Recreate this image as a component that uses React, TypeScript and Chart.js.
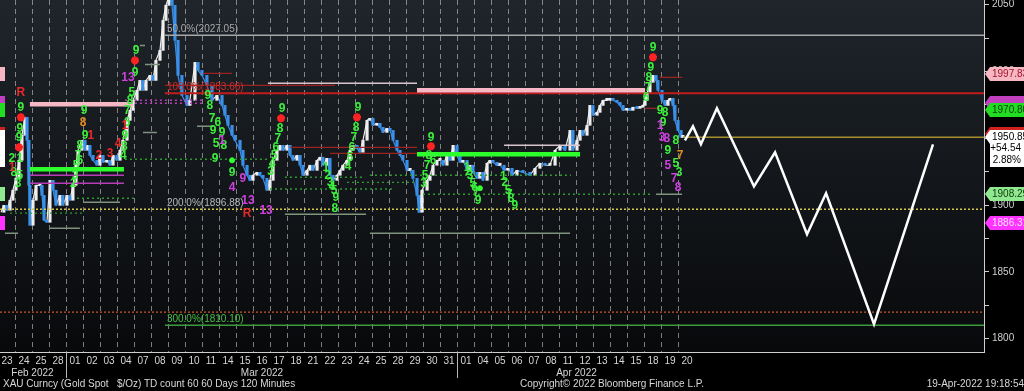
import React, { useEffect, useRef } from "react";
import { Chart, registerables } from "chart.js";

Chart.register(...registerables);

// ---------- DATA ----------
const dayLabels = ["23","24","25","28","01","02","03","04","07","08","09","10","11","14","15","16","17","18","21","22","23","24","25","28","29","30","31","01","04","05","06","07","08","11","12","13","14","15","18","19","20"];
const monthLabels = ["Feb 2022", "Mar 2022", "Apr 2022"];
const monthFirstDay = [0, 4, 27];
const monthLastDay = [3, 26, 40];
const yTicks = [1800, 1825, 1850, 1875, 1900, 1925, 1950, 1975, 2000, 2025, 2050];
const X_MIN = -0.41;
const X_MAX = 57.47;
const Y_MIN = 1790;
const Y_MAX = 2053.5;

// price path [trading-day index, price]
const priceFeb = [[-0.35,1894.6],[-0.18,1899.8],[0.00,1896.1],[0.18,1903.6],[0.35,1911.1],[0.53,1920.0],[0.71,1933.5],[0.88,1952.2],[1.06,1965.7],[1.18,1948.5],[1.29,1914.8],[1.35,1884.9],[1.53,1903.6],[1.71,1914.8],[1.94,1914.8],[2.06,1907.3],[2.18,1888.6],[2.35,1887.1],[2.53,1918.5],[2.71,1911.1],[2.88,1899.8],[3.12,1907.3],[3.29,1899.8],[3.53,1907.3],[3.71,1903.6],[3.88,1914.8]];
const priceMar = [[4.06,1929.8],[4.18,1941.0],[4.41,1948.5],[4.59,1941.0],[4.76,1944.7],[4.88,1937.2],[5.06,1933.5],[5.29,1929.8],[5.47,1937.2],[5.65,1932.0],[5.88,1933.5],[6.06,1929.8],[6.24,1937.2],[6.47,1933.5],[6.65,1941.0],[6.82,1948.5],[7.06,1963.4],[7.24,1970.9],[7.41,1978.4],[7.65,1985.9],[7.82,1993.3],[8.00,1985.9],[8.18,1993.3],[8.41,1997.1],[8.59,1993.3],[8.76,2008.3],[9.00,2015.8],[9.18,2038.2],[9.35,2049.5],[9.53,2056.0],[9.71,2049.5],[9.88,2023.3],[10.06,1997.1],[10.29,1982.1],[10.59,1974.6],[10.76,1978.4],[11.06,2006.8],[11.24,2000.8],[11.47,1997.1],[11.76,1989.6],[12.06,1978.4],[12.35,1982.1],[12.65,1974.6],[12.82,1967.2],[13.00,1959.7],[13.24,1952.2],[13.41,1948.5],[13.71,1941.0],[13.88,1929.8],[14.12,1922.3],[14.29,1918.5],[14.47,1922.3],[14.71,1924.5],[14.88,1922.3],[15.06,1920.0],[15.29,1911.1],[15.47,1918.5],[15.65,1933.5],[15.88,1941.0],[16.06,1944.7],[16.24,1941.0],[16.47,1944.7],[16.65,1937.2],[16.82,1933.5],[17.06,1937.2],[17.24,1929.8],[17.41,1922.3],[17.65,1926.0],[17.82,1929.8],[18.00,1926.0],[18.24,1933.5],[18.41,1935.8],[18.59,1929.8],[18.82,1935.0],[19.00,1922.3],[19.18,1918.5],[19.41,1922.3],[19.59,1926.0],[19.76,1929.8],[20.00,1933.5],[20.18,1941.0],[20.35,1944.7],[20.59,1942.5],[20.76,1939.5],[20.94,1948.5],[21.18,1963.4],[21.35,1964.9],[21.53,1959.7],[21.76,1961.2],[21.94,1958.2],[22.12,1954.4],[22.35,1957.4],[22.53,1955.9],[22.71,1948.5],[22.94,1941.0],[23.12,1937.2],[23.29,1933.5],[23.53,1926.0],[23.71,1926.0],[23.88,1920.0],[24.12,1907.3],[24.24,1894.6],[24.41,1911.1],[24.71,1918.5],[24.88,1922.3],[25.06,1929.8],[25.29,1933.5],[25.47,1933.5],[25.65,1929.8],[25.88,1937.2],[26.06,1933.5],[26.24,1944.7],[26.47,1937.2],[26.65,1932.0],[26.82,1933.5]];
const priceApr = [[27.06,1926.0],[27.24,1929.8],[27.41,1924.5],[27.65,1920.0],[27.82,1924.5],[28.00,1918.5],[28.24,1931.3],[28.41,1933.5],[28.59,1932.0],[28.82,1929.8],[29.00,1929.8],[29.24,1926.0],[29.47,1927.5],[29.71,1922.3],[30.00,1926.0],[30.35,1924.5],[30.76,1922.3],[31.06,1927.5],[31.35,1931.3],[31.65,1929.8],[31.94,1929.8],[32.24,1941.0],[32.53,1944.7],[32.82,1941.0],[33.12,1955.9],[33.29,1941.0],[33.53,1948.5],[33.71,1955.9],[33.88,1952.2],[34.12,1959.7],[34.29,1974.6],[34.47,1967.2],[34.71,1969.4],[34.88,1974.6],[35.06,1978.4],[35.29,1978.4],[35.47,1979.9],[35.65,1978.4],[35.88,1976.9],[36.06,1974.6],[36.24,1970.9],[36.47,1972.4],[36.65,1970.9],[36.82,1973.2],[37.06,1972.4],[37.24,1973.2],[37.41,1974.6],[37.53,1978.4],[37.65,1983.6],[37.82,1991.9],[38.00,1997.1],[38.18,1993.3],[38.29,1985.9],[38.53,1978.4],[38.71,1974.6],[38.88,1978.4],[39.00,1979.9],[39.18,1974.6],[39.29,1963.4],[39.47,1955.9],[39.65,1950.7],[39.76,1950.85]];

// projected path
const projection = [[39.88,1948.5],[40.35,1958.9],[40.82,1945.5],[41.76,1972.4],[43.94,1914.0],[45.18,1939.5],[47.06,1878.1],[48.18,1908.8],[51.00,1810.8],[54.47,1945.5]];

// fibonacci levels
const fibLevels = [2027.05, 1983.66, 1896.88, 1810.10];
const fibNames = ["50.0%", "100.0%", "200.0%", "300.0%"];
const fibStartDay = 9.29;
const lastPrice = 1950.85;
const lastPriceStart = 39.76;
const orangeLevel = 1819.8;

// horizontal segments [fromDay, toDay, price]
const pinkBars = [[1.35,7.41,1975.4],[24.12,37.53,1985.9]];
const greenBars = [[1.35,6.88,1926.8],[24.12,33.71,1938.0]];
const magentaLines = [[1.35,6.88,1922.3],[1.35,6.88,1916.3]];
const magentaDots = [[6.94,11.53,1978.4],[6.94,11.53,1976.2]];
const lightLines = [[15.35,24.12,1991.1],[29.24,33.71,1944.7]];
const grayLines = [[-0.12,0.65,1878.9],[2.53,4.29,1882.6],[4.47,6.65,1902.1],[8.0,8.82,1954.4],[8.12,9.0,2005.3],[7.82,8.12,2019.5],[11.18,12.12,1958.9],[16.35,21.12,1893.1],[21.35,33.12,1878.9],[38.18,39.71,1908.1]];
const greenDotLines = [[6.94,15.47,1934.3],[4.12,7.53,1905.1],[0.18,4.41,1893.9],[16.35,21.06,1920.8],[21.35,33.18,1922.3],[20.0,24.12,1917.0],[15.47,22.82,1912.0],[24.47,37.94,1908.1]];
const darkRedLines = [[16.65,24.12,1943.2],[19.0,24.12,1938.7],[11.53,13.24,1998.6],[38.41,39.71,1995.6],[37.53,38.41,1972.4],[9.29,19.29,1989.6]];

// TD count labels [day, price, text]
const tdGreen = [[0.82,1973.2,"9"],[0.76,1957.4,"9"],[0.71,1950.7,"9"],[0.29,1935.0,"2"],[0.76,1935.0,"1"],[0.41,1924.5,"8"],[0.76,1922.3,"5"],[0.65,1916.3,"3"],
  [4.53,1970.9,"9"],[4.59,1952.2,"9"],[4.29,1944.7,"8"],[4.18,1937.2,"7"],[4.29,1933.5,"6"],[4.06,1929.8,"5"],[4.0,1922.3,"3"],[3.9,1916.0,"2"],
  [7.59,2015.8,"9"],[7.53,1999.3,"9"],[7.35,1984.4,"5"],[7.24,1978.4,"8"],[7.06,1970.9,"7"],[7.06,1961.9,"6"],[6.94,1952.2,"9"],[6.9,1944.0,"8"],[6.85,1937.0,"4"],
  [11.82,1982.1,"9"],[11.94,1974.6,"8"],[12.06,1964.9,"7"],[12.12,1955.9,"9"],[12.24,1935.0,"9"],[12.41,1961.9,"6"],[12.65,1954.4,"9"],[12.76,1944.7,"8"],[13.24,1924.5,"9"],[12.3,1946.0,"5"],
  [16.18,1972.4,"9"],[16.06,1957.4,"8"],[15.94,1949.9,"7"],[15.82,1943.2,"6"],[15.71,1937.2,"5"],[15.6,1931.0,"4"],[15.5,1925.0,"3"],
  [18.76,1928.3,"1"],[18.88,1922.3,"2"],[19.0,1917.0,"3"],[19.12,1914.0,"4"],[19.24,1911.1,"5"],[19.35,1905.8,"9"],[19.29,1897.6,"8"],
  [20.65,1973.2,"9"],[20.53,1958.2,"8"],[20.41,1950.7,"7"],[20.29,1943.2,"6"],[20.18,1935.8,"5"],[20.06,1929.0,"4"],
  [24.94,1950.7,"9"],[24.82,1937.2,"8"],[24.71,1929.8,"7"],[24.59,1922.3,"5"],[25.06,1933.0,"6"],[24.5,1916.0,"3"],
  [27.06,1928.3,"1"],[27.24,1922.3,"3"],[27.41,1916.3,"5"],[27.59,1909.6,"7"],[27.71,1903.6,"9"],[27.15,1925.0,"2"],[27.5,1913.0,"6"],
  [29.29,1917.0,"2"],[29.47,1911.1,"5"],[29.65,1905.1,"8"],[29.88,1899.8,"9"],[29.2,1921.0,"1"],[29.55,1908.0,"7"],
  [38.0,2018.0,"9"],[37.88,2003.1,"9"],[37.76,1995.6,"8"],[37.71,1988.1,"7"],[37.59,1980.6,"6"],
  [38.41,1970.9,"9"],[38.71,1969.4,"8"],[38.59,1961.9,"9"],[38.88,1941.0,"9"],[39.35,1948.5,"8"],[39.35,1931.3,"5"],[39.53,1924.5,"3"]];
const tdMagenta = [[7.12,1995.6,"13"],[12.65,1948.5,"1"],[13.88,1920.0,"9"],[13.24,1913.3,"4"],[14.18,1903.6,"13"],[15.24,1896.1,"13"],[38.41,1959.7,"1"],[38.53,1950.7,"3"],[38.82,1949.9,"8"],[38.88,1929.8,"5"],[39.24,1920.0,"7"],[39.47,1913.3,"8"]];
const tdRed = [[0.82,1984.4,"R"],[14.12,1893.9,"R"],[4.94,1952.2,"1"],[5.41,1937.2,"2"],[6.06,1938.7,"3"],[6.53,1946.2,"4"],[6.94,1959.7,"1"],[0.3,1928.0,"1"]];
const tdOrange = [[4.47,1961.9,"8"],[39.59,1937.2,"7"]];
const redStars = [[0.82,1965.7],[0.71,1943.2],[7.53,2008.3],[16.12,1964.9],[20.59,1965.7],[24.94,1944.0],[38.0,2010.6]];
const greenStars = [[13.24,1933.5],[27.82,1912.6]];

// right-axis value tags
const tagValues = [1976.2, 1997.83, 1970.80, 1953.0, 1950.85, 1908.29, 1886.31];
const tagTexts = [[""], ["1997.83"], ["1970.80"], [""], ["1950.85", "+54.54", "2.88%"], ["1908.29"], ["1886.31"]];
const tagFill = ["#c040c0", "#f6b7c3", "#22dd22", "#d02020", "#ffffff", "#90e890", "#ff33ff"];
const tagInk = ["#ffffff", "#a0142c", "#083c08", "#ffffff", "#000000", "#0b3a0b", "#ffe0ff"];

// ---------- HELPERS ----------
const UP = "#eeeeee";
const DOWN = "#3a8fe8";
const toPts = (arr: number[][]) => arr.map(([x, y]) => ({ x, y }));
const segData = (segs: number[][]) =>
  segs.flatMap(([a, b, p]) => [{ x: a, y: p }, { x: b, y: p }, { x: b, y: null as any }]);

const lineDs = (data: any[], color: string, width: number, dash: number[] = []) => ({
  data, borderColor: color, borderWidth: width, borderDash: dash, pointRadius: 0,
  spanGaps: false, fill: false, tension: 0,
});

const FONT = '"Liberation Sans", Arial, sans-serif';

const bgPlugin = {
  id: "bg",
  beforeDraw(chart: any) {
    const { ctx, chartArea: a, width, height } = chart;
    ctx.save();
    ctx.fillStyle = "#000";
    ctx.fillRect(0, 0, width, height);
    const g = ctx.createLinearGradient(0, a.top, 0, a.bottom);
    g.addColorStop(0, "#1f252b");
    g.addColorStop(1, "#08090b");
    ctx.fillStyle = g;
    ctx.fillRect(a.left, a.top, a.right - a.left, a.bottom - a.top);
    ctx.restore();
  },
};

const labelPlugin = {
  id: "labels",
  afterDatasetsDraw(chart: any) {
    const { ctx } = chart;
    const xs = chart.scales.x, ys = chart.scales.y;
    ctx.save();
    ctx.font = `10px ${FONT}`;
    ctx.textAlign = "left";
    ctx.textBaseline = "bottom";
    const fibColors = ["#a8a8a8", "#d02a2a", "#b8b8b8", "#44c044"];
    fibLevels.forEach((lv, i) => {
      ctx.fillStyle = fibColors[i];
      ctx.fillText(`${fibNames[i]}(${lv.toFixed(2)})`, xs.getPixelForValue(fibStartDay) + 2, ys.getPixelForValue(lv) - 1);
    });
    ctx.font = `bold 12px ${FONT}`;
    ctx.textAlign = "center";
    ctx.textBaseline = "middle";
    const groups: [any[], string][] = [[tdGreen, "#3cf03c"], [tdMagenta, "#d040e0"], [tdRed, "#e82a2a"], [tdOrange, "#e08a20"]];
    for (const [items, color] of groups) {
      ctx.fillStyle = color;
      for (const [d, p, t] of items) ctx.fillText(t, xs.getPixelForValue(d), ys.getPixelForValue(p));
    }
    ctx.restore();
  },
  afterDraw(chart: any) {
    const { ctx, chartArea: a } = chart;
    const xs = chart.scales.x, ys = chart.scales.y;
    ctx.save();
    ctx.strokeStyle = "#b8b8b8";
    ctx.lineWidth = 1;
    [monthLastDay[0] + 0.5, monthLastDay[1] + 0.5].forEach((d) => {
      const px = Math.round(xs.getPixelForValue(d)) + 0.5;
      ctx.beginPath();
      ctx.moveTo(px, a.bottom);
      ctx.lineTo(px, a.bottom + 26);
      ctx.stroke();
    });
    ctx.font = `10px ${FONT}`;
    ctx.textBaseline = "middle";
    tagValues.forEach((v, i) => {
      const y = Math.round(ys.getPixelForValue(v));
      const lines = tagTexts[i];
      const h = 14 + (lines.length - 1) * 11.5;
      const x0 = a.right + 1;
      ctx.fillStyle = tagFill[i];
      ctx.beginPath();
      ctx.moveTo(x0, y);
      ctx.lineTo(x0 + 5, y - 7);
      ctx.lineTo(chart.width, y - 7);
      ctx.lineTo(chart.width, y - 7 + h);
      ctx.lineTo(x0 + 5, y - 7 + h);
      ctx.lineTo(x0 + 5, y + 7);
      ctx.closePath();
      ctx.fill();
      ctx.fillRect(a.left, y - 7, 5, h);
      ctx.fillStyle = tagInk[i];
      lines.forEach((t, k) => {
        if (k === 0) { ctx.textAlign = "left"; ctx.fillText(t, x0 + 7, y); }
        else { ctx.textAlign = "right"; ctx.fillText(t, chart.width - 3, y + k * 11.5); }
      });
    });
    ctx.restore();
  },
};

export default function App() {
  const ref = useRef<HTMLCanvasElement>(null);
  useEffect(() => {
    document.body.style.margin = "0";
    document.body.style.background = "#000";
    Chart.defaults.font.family = FONT;
    Chart.defaults.font.size = 10;
    const fullSpan = (p: number, from = fibStartDay) => segData([[from, X_MAX, p]]);
    const path = [...priceFeb, ...priceMar, ...priceApr];
    const price = toPts(path);
    // candle bodies: each bar opens at the previous close
    const bodies = path.slice(1).map(([x, y], i) => ({ x, y: [path[i][1], y] }));
    const chart = new Chart(ref.current!, {
      type: "line",
      data: {
        datasets: [
          { ...lineDs(toPts(redStars), "#ff2222", 2.5), showLine: false, pointRadius: 4, pointStyle: "star", pointBorderColor: "#ff2222", pointBorderWidth: 2.5 } as any,
          { ...lineDs(toPts(greenStars), "#33ff33", 1), showLine: false, pointRadius: 2.5, pointStyle: "circle", pointBackgroundColor: "#33ff33", pointBorderColor: "#33ff33" } as any,
          lineDs(toPts(projection), "#ffffff", 2.5),
          lineDs(segData(pinkBars), "#f5b8c4", 4.5),
          lineDs(segData(greenBars), "#2cff2c", 4.5),
          lineDs(segData(magentaLines), "#b83cb8", 1.5),
          lineDs(segData(magentaDots), "#b83cb8", 1.5, [2, 3]),
          lineDs(segData(lightLines), "#d9c6cc", 1.5),
          lineDs(segData(grayLines), "#7f937f", 1.5),
          lineDs(segData(greenDotLines), "#2f9a2f", 1.3, [2, 3]),
          lineDs(segData(darkRedLines), "#9a2222", 1.3),
          lineDs(fullSpan(fibLevels[0]), "#a8a8a8", 1.5),
          lineDs(fullSpan(fibLevels[1]), "#c01c1c", 2),
          lineDs(fullSpan(fibLevels[2], X_MIN), "#d8c848", 1.5, [2, 2]),
          lineDs(fullSpan(fibLevels[3]), "#3c9c3c", 1.5),
          lineDs(fullSpan(orangeLevel, X_MIN), "#c8582a", 1.3, [2, 2]),
          lineDs(fullSpan(lastPrice, lastPriceStart), "#a88f2c", 1.5),
          {
            type: "bar",
            data: bodies,
            barThickness: 2.5,
            minBarLength: 2,
            grouped: false,
            borderWidth: 0,
            backgroundColor: (c: any) => {
              const r = c.raw;
              return r && r.y[1] >= r.y[0] ? UP : DOWN;
            },
          } as any,
          {
            ...lineDs(price, "#f0f0f0", 1.2),
            segment: {
              borderColor: (c: any) => (c.p1.parsed.y >= c.p0.parsed.y ? UP : DOWN),
            },
          } as any,
        ],
      },
      options: {
        animation: false,
        responsive: false,
        devicePixelRatio: 1,
        layout: { padding: 0, autoPadding: false } as any,
        plugins: { legend: { display: false }, tooltip: { enabled: false } },
        elements: { point: { radius: 0 } },
        scales: {
          x: {
            type: "linear", position: "bottom", min: X_MIN, max: X_MAX, offset: false,
            afterBuildTicks: (s: any) => { s.ticks = dayLabels.map((_, i) => ({ value: i })); },
            ticks: { autoSkip: false, maxRotation: 0, padding: 3, color: "#d6d6d6", font: { size: 10 },
              callback: (v: any) => dayLabels[Math.round(Number(v))] ?? "" },
            grid: { display: false, drawTicks: false, offset: false },
            border: { display: true, color: "#cfcfcf", width: 1 },
            afterFit: (s: any) => { s.height = 14; s.paddingLeft = 0; s.paddingRight = 0; },
          },
          xm: {
            type: "linear", position: "bottom", min: X_MIN, max: X_MAX,
            afterBuildTicks: (s: any) => { s.ticks = monthFirstDay.map((f, i) => ({ value: (f + monthLastDay[i]) / 2 })); },
            ticks: { autoSkip: false, maxRotation: 0, padding: 1, color: "#d6d6d6", font: { size: 10 },
              callback: (_v: any, i: number) => monthLabels[i] },
            grid: { display: false, drawTicks: false },
            border: { display: false },
            afterFit: (s: any) => { s.height = 25; s.paddingLeft = 0; s.paddingRight = 0; },
          },
          xg: {
            type: "linear", position: "top", min: X_MIN, max: X_MAX,
            afterBuildTicks: (s: any) => { s.ticks = dayLabels.slice(1).map((_, i) => ({ value: i + 0.5 })); },
            ticks: { display: false },
            grid: { display: true, drawTicks: false, color: "rgba(200,200,200,0.6)", lineWidth: 1, borderDash: [5, 4] } as any,
            border: { display: false, dash: [5, 4] },
            afterFit: (s: any) => { s.height = 0; s.paddingLeft = 0; s.paddingRight = 0; },
          },
          y: {
            position: "right", min: Y_MIN, max: Y_MAX,
            afterBuildTicks: (s: any) => { s.ticks = yTicks.map((v) => ({ value: v })); },
            ticks: { color: "#cfcfcf", font: { size: 10 }, padding: 3,
              callback: (v: any) => (Number(v) % 50 === 0 ? String(v) : "") },
            grid: { display: true, drawOnChartArea: false, drawTicks: true, tickLength: 5, tickColor: "#cfcfcf" },
            border: { display: true, color: "#cfcfcf", width: 1 },
            afterFit: (s: any) => { s.width = 40; s.paddingTop = 0; s.paddingBottom = 0; },
          },
        } as any,
      },
      plugins: [bgPlugin, labelPlugin],
    });
    return () => chart.destroy();
  }, []);

  const foot: React.CSSProperties = {
    position: "absolute", top: 378, fontFamily: FONT, fontSize: 10, lineHeight: "12px",
    color: "#d8d8d8", whiteSpace: "pre",
  };
  return (
    <div style={{ position: "fixed", left: 0, top: 0, width: 1024, height: 391, background: "#000", overflow: "hidden" }}>
      <canvas ref={ref} width={1024} height={391} style={{ position: "absolute", left: 0, top: 0, width: 1024, height: 391 }} />
      <div style={{ ...foot, left: 3 }}>{"XAU Curncy (Gold Spot   $/Oz) TD count 60 60 Days 120 Minutes"}</div>
      <div style={{ ...foot, left: 520 }}>{"Copyright© 2022 Bloomberg Finance L.P."}</div>
      <div style={{ ...foot, right: 0 }}>{"19-Apr-2022 19:18:54"}</div>
    </div>
  );
}
